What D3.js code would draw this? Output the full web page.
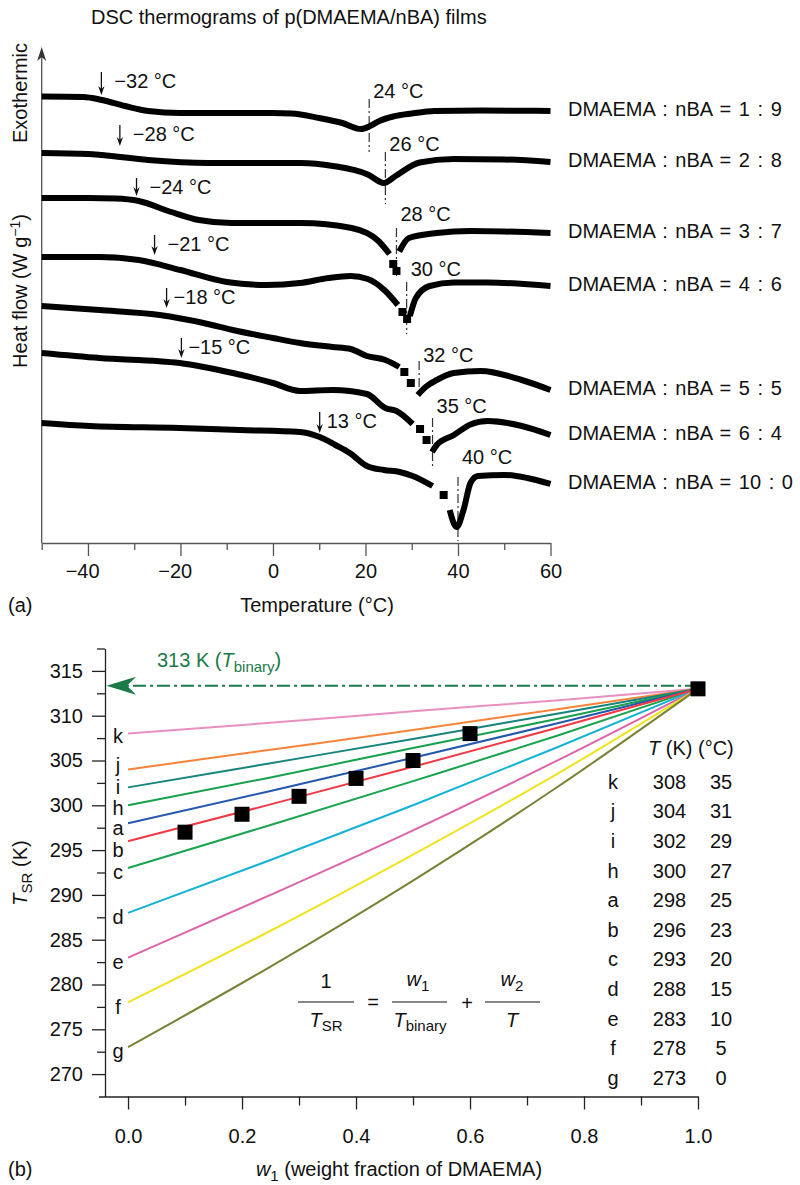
<!DOCTYPE html>
<html>
<head>
<meta charset="utf-8">
<script src="https://cdn.jsdelivr.net/npm/d3@7"></script>
<style>
body { margin: 0; background: #fff; }
svg text { font-family: "Liberation Sans", Arial, Helvetica, sans-serif; font-size: 20px; fill: #111; }
</style>
</head>
<body>
<div id="chart"></div>
<script>
// ---------- panel (a): DSC thermograms ----------
// [temperature (°C), heat flow (arb. units)], null breaks the trace
const ratioLabels = ["1 : 9", "2 : 8", "3 : 7", "4 : 6", "5 : 5", "6 : 4", "10 : 0"];
const dsc19 = [[-50, 89.3], [-41, 89.2], [-37, 88.6], [-32, 87.4], [-27, 86.4], [-20, 86.0], [0, 86.0], [4, 85.9], [10, 85.0], [15, 84.0], [19, 82.8], [21, 83.4], [23, 84.4], [26, 85.3], [30, 85.9], [35, 86.4], [45, 86.5], [60, 86.4]];
const dsc28 = [[-50, 78.0], [-40, 77.8], [-37, 77.6], [-27, 76.6], [-14, 76.0], [6, 76.0], [13, 75.4], [20.5, 73.7], [24, 72.0], [26.5, 73.4], [31.7, 76.1], [39, 76.8], [50, 76.7], [60, 76.2]];
const dsc37 = [[-50, 69.0], [-40, 69.0], [-34, 68.9], [-29, 68.4], [-22, 66.2], [-16, 64.6], [-9, 64.0], [6, 64.0], [17, 63.0], [22.8, 60.4], [25.2, 57.8], null, [26.0, 55.8], null, [26.7, 54.4], null, [27.3, 58.3], [29.4, 61.0], [35.4, 62.0], [42.7, 62.4], [50, 62.3], [60, 62.0]];
const dsc46 = [[-50, 57.2], [-37.5, 57.2], [-29, 56.6], [-20, 54.6], [-10, 52.2], [-1.4, 51.6], [5.8, 52.0], [12, 53.0], [16.8, 53.4], [20.5, 52.8], [24.3, 50.4], [27.0, 47.6], null, [28.0, 46.2], null, [29.0, 44.8], null, [29.6, 45.4], [30.9, 49.0], [33.9, 51.4], [39.1, 52.1], [46.4, 52.1], [60, 51.4]];
const dsc55 = [[-50, 47.4], [-37.5, 46.6], [-24.5, 45.6], [-15, 44.0], [-8.7, 42.6], [0, 41.0], [5.8, 40.0], [12.9, 39.2], [16.8, 38.8], [20.3, 37.4], [24.3, 36.6], [27.3, 35.2], null, [28.4, 34.2], null, [29.8, 32.0], null, [31.3, 29.6], [33, 31.2], [35.4, 32.6], [39.1, 34.0], [44.9, 34.4], [53.8, 32.6], [60, 30.6]];
const dsc64 = [[-50, 38.0], [-37.5, 37.0], [-20.2, 36.0], [-8.7, 34.0], [0, 32.0], [5.8, 30.4], [12.9, 30.6], [20.3, 29.8], [24.3, 27.0], [26.7, 26.4], [30.2, 23.8], null, [31.8, 22.8], null, [33.2, 20.6], null, [34.4, 18.2], [35.4, 19.6], [39.1, 21.6], [42.7, 23.7], [46.4, 24.4], [53.8, 23.4], [60, 21.6]];
const dsc100 = [[-50, 24.0], [-39.6, 23.4], [-20.2, 23.0], [-7.2, 22.6], [5.8, 22.2], [10.1, 21.2], [13.5, 19.6], [16.6, 18.0], [20.3, 15.4], [24, 14.6], [27.4, 14.2], [30.2, 13.4], [34.5, 11.4], null, [36.9, 9.6], null, [38.2, 6.6], [39.7, 3.2], [41.2, 6.6], [42.7, 12.0], [44.3, 13.4], [50.1, 13.6], [55, 13.0], [60, 11.8]];
const dscCurves = [dsc19, dsc28, dsc37, dsc46, dsc55, dsc64, dsc100];

// glass transitions (arrows)
const tgLabels = ["−32 °C", "−28 °C", "−24 °C", "−21 °C", "−18 °C", "−15 °C", "13 °C"];
const tgT = [-37.1, -33.1, -29.5, -25.6, -23.0, -19.8, 10.1];
const tgTop = [94.2, 83.6, 73.0, 61.6, 51.0, 41.0, 26.2];
const tgBottom = [89.6, 79.4, 69.4, 57.6, 47.0, 37.0, 22.0];

// endotherm peaks (dash-dot marks)
const peakLabels = ["24 °C", "26 °C", "28 °C", "30 °C", "32 °C", "35 °C", "40 °C"];
const peakT = [20.8, 24.3, 26.7, 28.9, 31.6, 34.5, 40.0];
const peakTop = [88.8, 78.2, 63.0, 52.2, 36.4, 25.0, 13.2];
const peakBottom = [78.2, 67.8, 53.2, 41.8, 31.0, 14.8, 0.4];

const tempTicks = [-40, -20, 0, 20, 40, 60];
const tempMinor = [-50, -30, -10, 10, 30, 50];

// ---------- panel (b): T_SR vs w1 ----------
const expW = [0.1, 0.2, 0.3, 0.4, 0.5, 0.6, 1.0];
const expTsr = [297, 299, 301, 303, 305, 308, 313];

const lineKeys = ["k", "j", "i", "h", "a", "b", "c", "d", "e", "f", "g"];
const lineTK = [308, 304, 302, 300, 298, 296, 293, 288, 283, 278, 273];
const lineTC = [35, 31, 29, 27, 25, 23, 20, 15, 10, 5, 0];
const lineColors = ["#e98fc2", "#f5843a", "#17847f", "#18a04d", "#2457ad", "#ef3a45", "#1aa450", "#14b3d6", "#dc64aa", "#f0e31d", "#7a8034"];
const wGrid = [0, 0.25, 0.5, 0.75, 1];
const tsrK = [308, 309.2, 310.5, 311.7, 313];
const tsrJ = [304, 306.2, 308.4, 310.7, 313];
const tsrI = [302, 304.7, 307.4, 310.2, 313];
const tsrH = [300, 303.1, 306.4, 309.6, 313];
const tsrA = [298, 301.6, 305.3, 309.1, 313];
const tsrB = [296, 300.1, 304.3, 308.6, 313];
const tsrC = [293, 297.8, 302.7, 307.7, 313];
const tsrD = [288, 293.9, 300.0, 306.4, 313];
const tsrE = [283, 290.0, 297.2, 304.9, 313];
const tsrF = [278, 286.0, 294.5, 303.4, 313];
const tsrG = [273, 282.0, 291.6, 301.9, 313];
const tsrLines = [tsrK, tsrJ, tsrI, tsrH, tsrA, tsrB, tsrC, tsrD, tsrE, tsrF, tsrG];
const tBinary = 313;

const tsrTicks = [270, 275, 280, 285, 290, 295, 300, 305, 310, 315];
const tsrMinor = [272.5, 277.5, 282.5, 287.5, 292.5, 297.5, 302.5, 307.5, 312.5, 317.5];
const wTicks = [0, 0.2, 0.4, 0.6, 0.8, 1.0];
const wMinor = [0.1, 0.3, 0.5, 0.7, 0.9];

const svg = d3.select("#chart").append("svg")
    .attr("width", 800)
    .attr("height", 1185);

const minus = d => d < 0 ? "−" + Math.abs(d) : "" + d;

// ===================== panel (a) =====================
const xA = d3.scaleLinear().domain([-50, 60]).range([41.7, 550.5]);
const yA = d3.scaleLinear().domain([0, 100]).range([543, 43]);

svg.append("text")
    .attr("x", 91).attr("y", 24)
    .text("DSC thermograms of p(DMAEMA/nBA) films");

// x axis
const gxA = svg.append("g")
    .attr("transform", "translate(0," + yA(0) + ")")
    .call(d3.axisBottom(xA).tickValues(tempTicks).tickSize(13).tickPadding(8).tickSizeOuter(0).tickFormat(minus));
gxA.selectAll("text").attr("dx", d => d < 0 ? "-0.29em" : 0);
const gxAm = svg.append("g")
    .attr("transform", "translate(0," + yA(0) + ")")
    .call(d3.axisBottom(xA).tickValues(tempMinor).tickSize(7).tickFormat(""));
gxAm.select(".domain").remove();
svg.selectAll(".domain, .tick line").attr("stroke", "#555").attr("stroke-width", 1.3);

// y axis with arrow
svg.append("line")
    .attr("x1", xA(-50)).attr("x2", xA(-50))
    .attr("y1", yA(0)).attr("y2", yA(99.2) + 8)
    .attr("stroke", "#555").attr("stroke-width", 1.3);
svg.append("path")
    .attr("d", `M${xA(-50)},${yA(99.2)} L${xA(-50) - 4.5},${yA(99.2) + 14} L${xA(-50)},${yA(99.2) + 10} L${xA(-50) + 4.5},${yA(99.2) + 14} Z`)
    .attr("fill", "#333");

svg.append("text")
    .attr("transform", "translate(27,93) rotate(-90)")
    .attr("text-anchor", "middle")
    .text("Exothermic");
const hf = svg.append("text")
    .attr("transform", "translate(27,291) rotate(-90)")
    .attr("text-anchor", "middle");
hf.append("tspan").text("Heat flow (W g");
hf.append("tspan").attr("font-size", 14).attr("dy", -7).text("−1");
hf.append("tspan").attr("dy", 7).text(")");

svg.append("text")
    .attr("x", 317).attr("y", 612)
    .attr("text-anchor", "middle")
    .text("Temperature (°C)");
svg.append("text").attr("x", 8).attr("y", 612).text("(a)");

// peak marks
const peakLift = [8, 8, 14, 13, 6, 12, 20];
peakT.forEach((t, i) => {
    svg.append("line")
        .attr("x1", xA(t)).attr("x2", xA(t))
        .attr("y1", yA(peakTop[i])).attr("y2", yA(peakBottom[i]))
        .attr("stroke", "#333").attr("stroke-width", 1.2)
        .attr("stroke-dasharray", "9,3,2,3");
    svg.append("text")
        .attr("x", xA(t) + 4).attr("y", yA(peakTop[i]) - peakLift[i])
        .attr("dy", "0.35em")
        .text(peakLabels[i]);
});

// thermogram traces
const lineA = d3.line()
    .defined(d => d !== null)
    .x(d => xA(d[0]))
    .y(d => yA(d[1]))
    .curve(d3.curveMonotoneX);

dscCurves.forEach((c, ci) => {
    svg.append("path")
        .datum(c)
        .attr("d", lineA)
        .attr("fill", "none")
        .attr("stroke", "#000")
        .attr("stroke-width", 6)
        .attr("stroke-linejoin", "round");

    let lone = c.filter((d, i) => d && !c[i - 1] && !c[i + 1]);
    svg.selectAll(null)
        .data(lone)
        .enter().append("rect")
        .attr("x", d => xA(d[0]) - 4)
        .attr("y", d => yA(d[1]) - 4)
        .attr("width", 8).attr("height", 8)
        .attr("fill", "#000");

    let last = c[c.length - 1];
    svg.append("text")
        .attr("x", 568).attr("y", yA(last[1]) - 2)
        .attr("dy", "0.35em")
        .attr("word-spacing", "2px")
        .text("DMAEMA : nBA = " + ratioLabels[ci]);
});

// Tg arrows
tgT.forEach((t, i) => {
    let x = xA(t), y1 = yA(tgTop[i]), y2 = yA(tgBottom[i]);
    svg.append("line")
        .attr("x1", x).attr("x2", x)
        .attr("y1", y1).attr("y2", y2 - 5)
        .attr("stroke", "#111").attr("stroke-width", 1.3);
    svg.append("path")
        .attr("d", `M${x - 3.2},${y2 - 9} L${x},${y2} L${x + 3.2},${y2 - 9} L${x},${y2 - 6} Z`)
        .attr("fill", "#111");
    svg.append("text")
        .attr("x", x + (t > -24 ? 7 : 13)).attr("y", y1 + 9)
        .attr("dy", "0.35em")
        .text(tgLabels[i]);
});

// ===================== panel (b) =====================
const xB = d3.scaleLinear().domain([-0.052, 1]).range([98.4, 698]);
const yB = d3.scaleLinear().domain([267.5, 317.5]).range([1096.5, 648.5]);

const gxB = svg.append("g")
    .attr("class", "axisB")
    .attr("transform", "translate(0," + yB(267.5) + ")")
    .call(d3.axisBottom(xB).tickValues(wTicks).tickSize(13).tickPadding(19).tickSizeOuter(0).tickFormat(d3.format(".1f")));
const gxBm = svg.append("g")
    .attr("class", "axisB")
    .attr("transform", "translate(0," + yB(267.5) + ")")
    .call(d3.axisBottom(xB).tickValues(wMinor).tickSize(9).tickFormat(""));
gxBm.select(".domain").remove();

const gyB = svg.append("g")
    .attr("class", "axisB")
    .attr("transform", "translate(105,0)")
    .call(d3.axisLeft(yB).tickValues(tsrTicks).tickSize(13).tickPadding(9).tickSizeOuter(0));
const gyBm = svg.append("g")
    .attr("class", "axisB")
    .attr("transform", "translate(105,0)")
    .call(d3.axisLeft(yB).tickValues(tsrMinor).tickSize(8).tickFormat(""));
gyBm.select(".domain").remove();

svg.selectAll(".axisB .domain, .axisB .tick line").attr("stroke", "#222").attr("stroke-width", 1.3);
svg.selectAll(".tick text").attr("font-size", 20).attr("font-family", null).attr("fill", "#111");

const ts = svg.append("text")
    .attr("transform", "translate(27,873) rotate(-90)")
    .attr("text-anchor", "middle");
ts.append("tspan").attr("font-style", "italic").text("T");
ts.append("tspan").attr("font-size", 15).attr("dy", 5).text("SR");
ts.append("tspan").attr("dy", -5).text(" (K)");

const wl = svg.append("text")
    .attr("x", 399).attr("y", 1176)
    .attr("text-anchor", "middle");
wl.append("tspan").attr("font-style", "italic").text("w");
wl.append("tspan").attr("font-size", 15).attr("dy", 5).text("1");
wl.append("tspan").attr("dy", -5).text(" (weight fraction of DMAEMA)");
svg.append("text").attr("x", 8).attr("y", 1176).text("(b)");

// T_binary arrow
const yBin = yB(tBinary) - 3;
svg.append("line")
    .attr("x1", xB(1)).attr("x2", 127)
    .attr("y1", yBin).attr("y2", yBin)
    .attr("stroke", "#1b7a47").attr("stroke-width", 2)
    .attr("stroke-dasharray", "13,4,3,4");
svg.append("path")
    .attr("d", `M106.5,${yBin} L136,${yBin - 9} L127,${yBin} L136,${yBin + 9} Z`)
    .attr("fill", "#1b7a47");
const tb = svg.append("text")
    .attr("x", 157).attr("y", yB(315.4))
    .style("fill", "#1b7a47");
tb.append("tspan").text("313 K (");
tb.append("tspan").attr("font-style", "italic").text("T");
tb.append("tspan").attr("font-size", 15).attr("dy", 5).text("binary");
tb.append("tspan").attr("dy", -5).text(")");

// model curves
const lineB = d3.line()
    .x((d, i) => xB(wGrid[i]))
    .y(d => yB(d))
    .curve(d3.curveMonotoneX);

const drawOrder = [0, 1, 2, 3, 4, 6, 7, 8, 9, 10, 5];
drawOrder.forEach(i => {
    svg.append("path")
        .datum(tsrLines[i])
        .attr("d", lineB)
        .attr("fill", "none")
        .attr("stroke", lineColors[i])
        .attr("stroke-width", 2);
});

// letter tags at the left end of each line
const tagShift = [2, -4, 0, 3, 5, 9, 4, 4, 4, 5, 4];
lineKeys.forEach((k, i) => {
    svg.append("text")
        .attr("x", 118).attr("y", yB(lineTK[i]) + tagShift[i])
        .attr("dy", "0.35em")
        .attr("font-size", 17)
        .attr("text-anchor", "middle")
        .text(k);
});

// experimental points
svg.selectAll(".pt")
    .data(expW)
    .enter().append("rect")
    .attr("class", "pt")
    .attr("x", d => xB(d) - 7.5)
    .attr("y", (d, i) => yB(expTsr[i]) - 7.5)
    .attr("width", 15).attr("height", 15)
    .attr("fill", "#000");

// table of T
const th = svg.append("text").attr("x", 648).attr("y", 755);
th.append("tspan").attr("font-style", "italic").text("T");
th.append("tspan").text(" (K) (°C)");
lineKeys.forEach((k, i) => {
    let y = 781.7 + i * 29.6;
    svg.append("text").attr("x", 613).attr("y", y).attr("dy", "0.35em").attr("text-anchor", "middle").text(k);
    svg.append("text").attr("x", 669.5).attr("y", y).attr("dy", "0.35em").attr("text-anchor", "middle").text(lineTK[i]);
    svg.append("text").attr("x", 721).attr("y", y).attr("dy", "0.35em").attr("text-anchor", "middle").text(lineTC[i]);
});

// equation 1/T_SR = w1/T_binary + w2/T
const eq = svg.append("g");
const bar = (x1, x2) => eq.append("line").attr("x1", x1).attr("x2", x2).attr("y1", 1002).attr("y2", 1002).attr("stroke", "#111").attr("stroke-width", 1.2);
bar(298, 354); bar(392, 447); bar(485, 540);
eq.append("text").attr("x", 326).attr("y", 988).attr("text-anchor", "middle").text("1");
let t1 = eq.append("text").attr("x", 326).attr("y", 1027).attr("text-anchor", "middle");
t1.append("tspan").attr("font-style", "italic").text("T");
t1.append("tspan").attr("font-size", 15).attr("dy", 4).text("SR");
eq.append("text").attr("x", 373).attr("y", 1009).attr("text-anchor", "middle").text("=");
let w1 = eq.append("text").attr("x", 418).attr("y", 986).attr("text-anchor", "middle");
w1.append("tspan").attr("font-style", "italic").text("w");
w1.append("tspan").attr("font-size", 15).attr("dy", 5).text("1");
let t2 = eq.append("text").attr("x", 420).attr("y", 1027).attr("text-anchor", "middle");
t2.append("tspan").attr("font-style", "italic").text("T");
t2.append("tspan").attr("font-size", 15).attr("dy", 4).text("binary");
eq.append("text").attr("x", 467).attr("y", 1010).attr("text-anchor", "middle").text("+");
let w2 = eq.append("text").attr("x", 512).attr("y", 986).attr("text-anchor", "middle");
w2.append("tspan").attr("font-style", "italic").text("w");
w2.append("tspan").attr("font-size", 15).attr("dy", 5).text("2");
eq.append("text").attr("x", 512).attr("y", 1027).attr("text-anchor", "middle").attr("font-style", "italic").text("T");
</script>
</body>
</html>
